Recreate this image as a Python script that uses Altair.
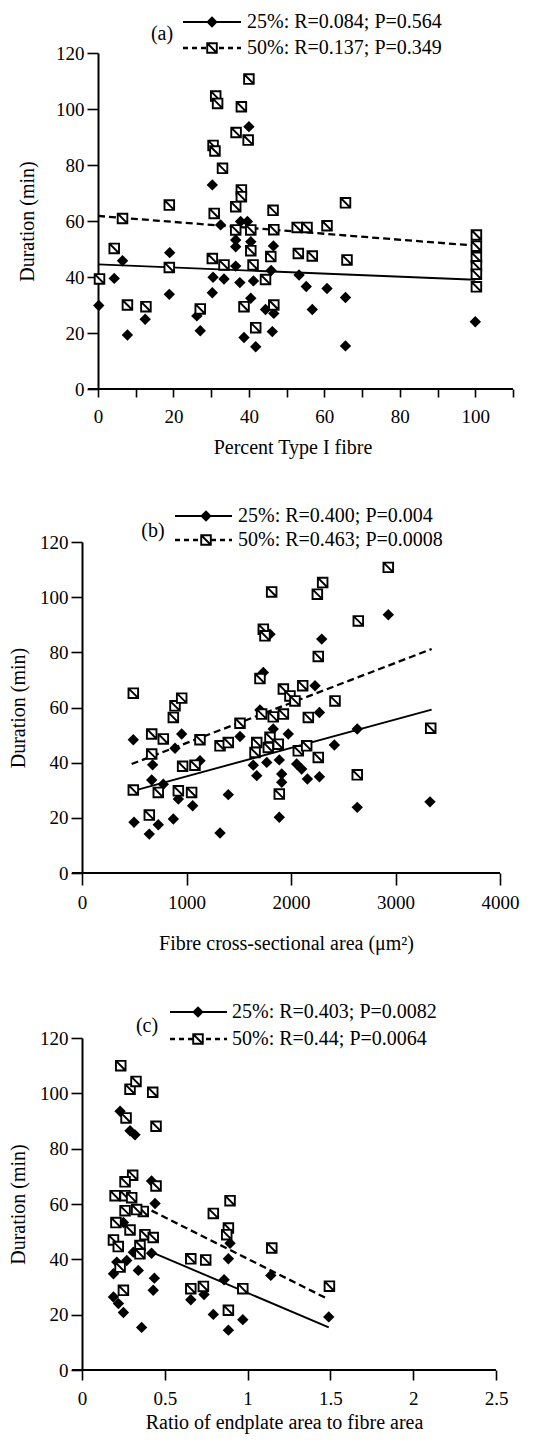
import altair as alt
import pandas as pd

SERIF = "Liberation Serif"
SQ = "M-1,-1L1,-1L1,1L-1,1Z M-1,-1L1,1"

# ---------------- Panel (a): Percent Type I fibre ----------------
a25_x = [0.2, 4.3, 6.5, 7.8, 12.5, 18.9, 19.0, 26.2, 27.1, 30.3, 30.3, 30.5, 32.5, 33.4,
         36.5, 36.5, 36.5, 37.6, 37.8, 38.7, 39.6, 40.0, 40.5, 40.5, 41.2, 41.8, 44.4,
         45.9, 46.2, 46.5, 46.6, 53.3, 55.2, 56.8, 60.7, 65.6, 65.6, 100]
a25_y = [29.8, 39.5, 45.8, 19.3, 24.9, 33.8, 48.7, 26.1, 20.8, 72.9, 34.4, 39.9, 58.6, 39.3,
         53.2, 50.8, 43.9, 38.0, 59.8, 18.4, 59.8, 93.7, 52.6, 32.4, 38.6, 15.1, 28.4,
         42.3, 20.5, 51.1, 27.0, 40.7, 36.6, 28.4, 35.9, 32.7, 15.4, 24.0]
a50_x = [40.0, 31.2, 31.7, 38.0, 36.6, 39.8, 30.5, 31.0, 33.0, 38.0, 38.0, 36.5, 18.9, 65.6,
         6.5, 30.8, 46.4, 36.5, 40.5, 46.6, 52.8, 55.4, 60.7, 4.3, 40.5, 53.1, 56.8, 45.8,
         66.0, 30.3, 33.4, 18.9, 41.1, 44.4, 0.4, 7.8, 12.7, 27.1, 38.7, 46.6, 41.8,
         100.3, 100.3, 100.3, 100.3, 100.3, 100.3]
a50_y = [110.7, 104.6, 102.0, 100.8, 91.6, 88.9, 87.0, 85.0, 78.8, 71.1, 68.7, 65.1, 65.7, 66.5,
         60.9, 62.7, 63.8, 56.8, 56.8, 56.9, 57.7, 57.7, 58.3, 50.2, 49.4, 48.4, 47.5, 47.3,
         46.1, 46.6, 44.3, 43.4, 44.3, 39.1, 39.3, 30.0, 29.4, 28.6, 29.4, 30.0, 21.9,
         55.0, 51.0, 47.0, 44.0, 41.0, 36.5]
a_fit25_x = [0, 100]
a_fit25_y = [44.5, 39.0]
a_fit50_x = [0, 100]
a_fit50_y = [61.8, 51.2]

# ---------------- Panel (b): Fibre cross-sectional area ----------------
b25_x = [2931, 2294, 1799, 1735, 491, 954, 890, 1512, 676, 667, 778, 922, 1059, 1129, 1400,
         874, 498, 730, 644, 1321, 1639, 1672, 1768, 1888, 1974, 1830, 1911, 1911, 1888,
         2054, 2102, 2157, 2272, 2272, 2230, 2415, 2634, 2634, 3330, 1703]
b25_y = [93.6, 84.8, 86.6, 72.7, 48.3, 50.4, 45.2, 49.5, 39.2, 33.7, 32.2, 26.8, 24.4, 40.7, 28.4,
         19.6, 18.4, 17.5, 14.1, 14.5, 39.1, 35.3, 40.1, 41.0, 50.4, 52.2, 32.9, 35.9, 20.2,
         39.5, 37.7, 34.1, 34.9, 58.2, 67.9, 46.4, 52.2, 23.8, 25.8, 59.1]
b50_x = [2931, 1815, 2303, 2252, 2644, 1735, 1751, 2261, 1703, 491, 890, 954, 874, 1927, 1990,
         2038, 2112, 2421, 1719, 1927, 1830, 1512, 2166, 667, 778, 1129, 1321, 1400, 1672,
         1656, 1799, 1783, 1878, 2070, 2150, 2261, 667, 963, 1081, 491, 730, 922, 1049, 644,
         1888, 2634, 3337]
b50_y = [110.8, 101.9, 105.3, 101.1, 91.4, 88.4, 86.0, 78.5, 70.5, 65.2, 60.6, 63.4, 56.4, 66.7, 64.2,
         62.4, 67.9, 62.4, 57.6, 57.6, 56.6, 54.3, 56.4, 50.4, 48.6, 48.3, 46.1, 47.3, 47.3,
         43.7, 49.2, 45.5, 46.7, 44.3, 46.1, 41.9, 43.1, 38.7, 39.1, 30.1, 29.2, 29.8, 29.2, 21.0,
         28.6, 35.6, 52.5]
b_fit25_x = [491, 3346]
b_fit25_y = [29.8, 59.2]
b_fit50_x = [475, 3346]
b_fit50_y = [39.5, 81.2]

# ---------------- Panel (c): Ratio of endplate area to fibre area ----------------
c25_x = [0.23, 0.29, 0.32, 0.42, 0.441, 0.25, 0.19, 0.21, 0.27, 0.31, 0.42, 0.34, 0.437, 0.43,
         0.19, 0.22, 0.25, 0.36, 0.657, 0.737, 0.793, 0.884, 0.971, 0.884, 0.858, 0.894, 1.14, 1.49]
c25_y = [93.5, 86.5, 85.0, 68.3, 60.2, 53.3, 34.8, 39.0, 39.6, 42.6, 42.2, 36.0, 33.2, 28.8,
         26.4, 24.0, 20.8, 15.4, 25.4, 27.3, 20.1, 14.4, 18.2, 40.2, 32.6, 45.8, 34.2, 19.2]
c50_x = [0.234, 0.29, 0.326, 0.427, 0.266, 0.447, 0.306, 0.26, 0.447, 0.2, 0.26, 0.30, 0.793,
         0.894, 0.26, 0.37, 0.33, 0.205, 0.29, 0.884, 0.874, 0.19, 0.219, 0.38, 0.43, 0.35,
         0.35, 1.146, 0.657, 0.747, 0.23, 0.657, 0.733, 0.25, 0.971, 1.494, 0.884]
c50_y = [110.0, 101.5, 104.3, 100.4, 91.1, 88.1, 70.4, 68.0, 66.5, 63.0, 63.0, 62.3, 56.6,
         61.2, 57.6, 57.3, 58.0, 53.3, 50.6, 51.3, 48.9, 47.0, 44.6, 48.9, 47.9, 45.0,
         42.0, 44.1, 40.2, 39.8, 37.2, 29.4, 30.2, 28.8, 29.4, 30.3, 21.6]
c_fit25_x = [0.42, 1.49]
c_fit25_y = [42.6, 15.4]
c_fit50_x = [0.42, 1.48]
c_fit50_y = [57.6, 25.8]

y_ticks = [0, 20, 40, 60, 80, 100, 120]
ONE = pd.DataFrame({"k": [0]})


def panel(d25x, d25y, d50x, d50y, f25x, f25y, f50x, f50y, xmax, xvals, xlabel_expr,
          xtitle, tick_len, lab_pad, title_pad, span_px, gap_px, h, ytitle_pad,
          letter, txt25, txt50, leg):
    # span_px: pixels from x=0 to x=xmax; gap_px: plot-area pixels left of x=0
    upp = xmax / span_px
    xlo = -gap_px * upp
    w = span_px + gap_px
    xs = alt.Scale(domain=[xlo, xmax], nice=False, zero=False)
    ys = alt.Scale(domain=[0, 120], nice=False)
    xax = alt.Axis(values=xvals, labelExpr=xlabel_expr, tickSize=tick_len, title=xtitle,
                   labelFlush=False, labelOverlap=False, labelPadding=lab_pad,
                   titlePadding=title_pad, domain=False)
    yax = alt.Axis(values=y_ticks, tickSize=11, title="Duration (min)", labelFlush=False,
                   labelOverlap=False, labelPadding=3, titlePadding=ytitle_pad,
                   offset=-gap_px)
    X = alt.X("x:Q", scale=xs, axis=xax)
    Y = alt.Y("y:Q", scale=ys, axis=yax)

    # x axis baseline, running from the end of the y "0" tick to the axis maximum
    base = alt.Chart(pd.DataFrame({"x": [-10 * upp], "x2": [xmax], "y": [0]})).mark_rule(
        color="black", strokeWidth=2).encode(x=X, x2=alt.X2("x2:Q"), y=Y)
    dia = alt.Chart(pd.DataFrame({"x": d25x, "y": d25y})).mark_point(
        shape="diamond", filled=True, color="black", size=130, opacity=1
    ).encode(x=X, y=Y)
    sq = alt.Chart(pd.DataFrame({"x": d50x, "y": d50y})).mark_point(
        shape=SQ, filled=True, fill="white", stroke="black", strokeWidth=1.9, size=92, opacity=1
    ).encode(x=X, y=Y)
    l25 = alt.Chart(pd.DataFrame({"x": f25x, "y": f25y})).mark_line(
        color="black", strokeWidth=1.9).encode(x=X, y=Y)
    l50 = alt.Chart(pd.DataFrame({"x": f50x, "y": f50y})).mark_line(
        color="black", strokeWidth=2.3, strokeDash=[7, 4]).encode(x=X, y=Y)

    lx0, lx1, mx, tx, y1, y2, ax, ay = leg
    g = gap_px
    lg = [
        alt.Chart(ONE).mark_rule(color="black", strokeWidth=1.9).encode(
            x=alt.value(lx0 + g), x2=alt.value(lx1 + g), y=alt.value(y1)),
        alt.Chart(ONE).mark_rule(color="black", strokeWidth=2.3, strokeDash=[5, 4]).encode(
            x=alt.value(lx0 + g), x2=alt.value(lx1 + g), y=alt.value(y2)),
        alt.Chart(ONE).mark_point(shape="diamond", filled=True, color="black", size=130,
                                  opacity=1).encode(x=alt.value(mx + g), y=alt.value(y1)),
        alt.Chart(ONE).mark_point(shape=SQ, filled=True, fill="white", stroke="black",
                                  strokeWidth=1.9, size=92, opacity=1).encode(
            x=alt.value(mx + g), y=alt.value(y2)),
        alt.Chart(ONE).mark_text(align="left", baseline="middle", font=SERIF, fontSize=20,
                                 color="black").encode(
            x=alt.value(tx + g), y=alt.value(y1), text=alt.value(txt25)),
        alt.Chart(ONE).mark_text(align="left", baseline="middle", font=SERIF, fontSize=20,
                                 color="black").encode(
            x=alt.value(tx + g), y=alt.value(y2), text=alt.value(txt50)),
        alt.Chart(ONE).mark_text(align="center", baseline="middle", font=SERIF, fontSize=20,
                                 color="black").encode(
            x=alt.value(ax + g), y=alt.value(ay), text=alt.value(letter)),
    ]
    return alt.layer(base, l25, l50, dia, sq, *lg).properties(width=w, height=h)


pa = panel(a25_x, a25_y, a50_x, a50_y, a_fit25_x, a_fit25_y, a_fit50_x, a_fit50_y,
           110, list(range(0, 111, 10)),
           "datum.value % 20 == 0 && datum.value <= 100 ? datum.label : ''",
           "Percent Type I fibre", 8, 10, 11, 415, 26, 336, 18, "(a)",
           "25%: R=0.084; P=0.564", "50%: R=0.137; P=0.349",
           (85, 143, 114, 149, -31, -5, 64, -19))
pb = panel(b25_x, b25_y, b50_x, b50_y, b_fit25_x, b_fit25_y, b_fit50_x, b_fit50_y,
           4000, [0, 1000, 2000, 3000, 4000],
           "format(datum.value, 'd')",
           "Fibre cross-sectional area (\u03bcm\u00b2)", 12, 8, 21, 418, 10, 331, 11, "(b)",
           "25%: R=0.400; P=0.004", "50%: R=0.463; P=0.0008",
           (93, 150, 124, 156, -26, -2, 71, -11))
pc = panel(c25_x, c25_y, c50_x, c50_y, c_fit25_x, c_fit25_y, c_fit50_x, c_fit50_y,
           2.5, [0, 0.5, 1, 1.5, 2, 2.5],
           "format(datum.value, '~g')",
           "Ratio of endplate area to fibre area", 10, 9, 4, 414, 10, 332, 11, "(c)",
           "25%: R=0.403; P=0.0082", "50%: R=0.44; P=0.0064",
           (88, 145, 116, 150, -26, 1, 65, -12))

chart = alt.vconcat(pa, alt.vconcat(pb, pc, spacing=49), spacing=49).properties(
    padding={"left": 0, "top": 4, "right": 5, "bottom": 5}
).configure_view(stroke=None).configure_axis(
    grid=False, domainColor="black", domainWidth=2, tickColor="black", tickWidth=1.6,
    labelFont=SERIF, labelFontSize=19, labelColor="black",
    titleFont=SERIF, titleFontSize=20, titleFontWeight="normal", titleColor="black"
)

chart.save("out.html", embed_options={"renderer": "svg", "actions": False})
